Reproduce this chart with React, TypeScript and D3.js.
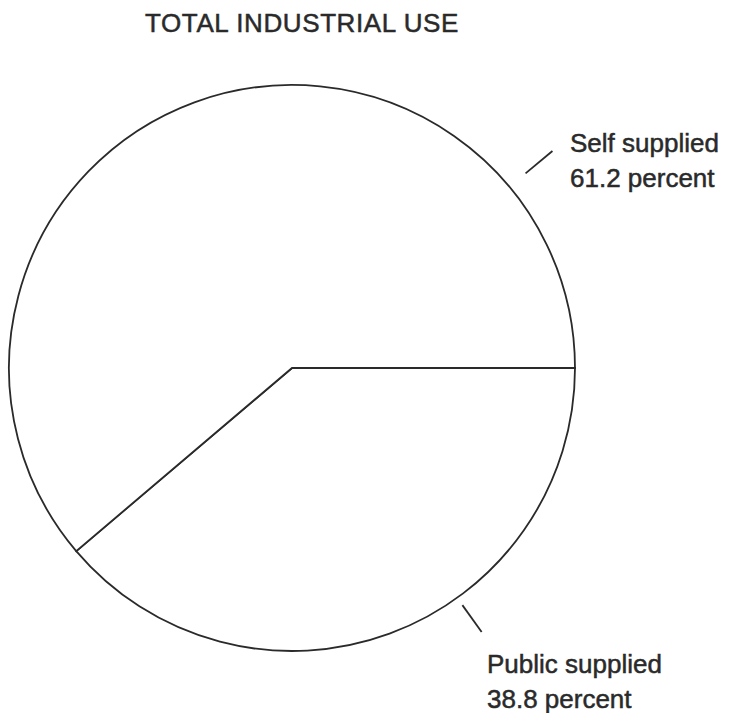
import React from "react";
import * as d3 from "d3";

const categories = ["Public supplied", "Self supplied"];
const values = [38.8, 61.2];
const valueLabels = ["38.8 percent", "61.2 percent"];
const title = "TOTAL INDUSTRIAL USE";

const W = 729;
const H = 713;
const cx = 292;
const cy = 368;
const R = 283;
const FONT = "'Liberation Sans', Arial, Helvetica, sans-serif";
const INK = "#2a2a2a";

export default function App() {
  const pie = d3
    .pie<number>()
    .sort(null)
    .startAngle(Math.PI / 2)
    .endAngle(Math.PI / 2 + 2 * Math.PI)
    .value((d) => d);
  const arcs = pie(values);
  const arcGen = d3.arc<d3.PieArcDatum<number>>().innerRadius(0).outerRadius(R);

  // annotation settings per category: leader angle (deg from top, clockwise), radial offsets, label anchor
  const notes = [
    { angle: 144.3, r0: R + 9, r1: R + 42, lx: 487, ly: 673 },
    { angle: 50.2, r0: R + 21, r1: R + 56, lx: 570, ly: 152 },
  ];

  const polar = (deg: number, r: number) => {
    const a = (deg * Math.PI) / 180;
    return [cx + r * Math.sin(a), cy - r * Math.cos(a)];
  };

  const textStyle = {
    fontFamily: FONT,
    fontSize: 26,
    fill: INK,
    stroke: INK,
    strokeWidth: 0.5,
  };

  return (
    <svg
      width={W}
      height={H}
      style={{ position: "absolute", left: 0, top: 0, background: "#fff" }}
    >
      <text x={145} y={32} {...textStyle} letterSpacing={0.6}>
        {title}
      </text>
      <g transform={`translate(${cx},${cy})`}>
        {arcs.map((a, i) => (
          <path
            key={categories[i]}
            d={arcGen(a) || ""}
            fill="#fff"
            stroke={INK}
            strokeWidth={1.8}
            strokeLinejoin="miter"
          />
        ))}
      </g>
      {notes.map((n, i) => {
        const [x0, y0] = polar(n.angle, n.r0);
        const [x1, y1] = polar(n.angle, n.r1);
        return (
          <g key={categories[i]}>
            <line x1={x0} y1={y0} x2={x1} y2={y1} stroke={INK} strokeWidth={1.8} />
            <text x={n.lx} y={n.ly} {...textStyle}>
              {categories[i]}
            </text>
            <text x={n.lx} y={n.ly + 35} {...textStyle}>
              {valueLabels[i]}
            </text>
          </g>
        );
      })}
    </svg>
  );
}
